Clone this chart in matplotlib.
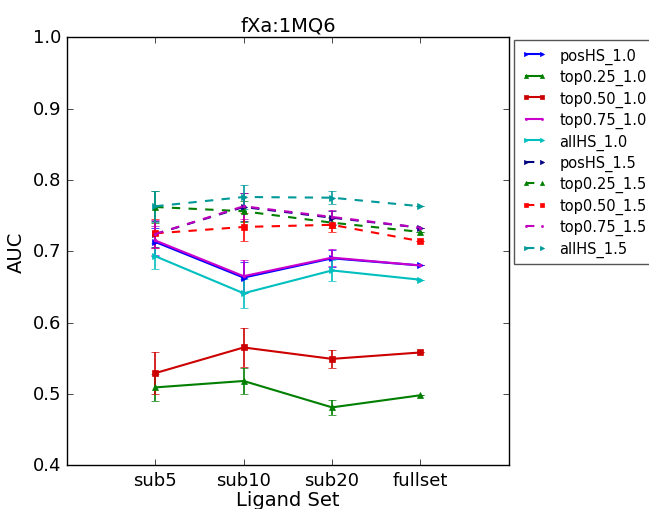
import numpy as np
import matplotlib
matplotlib.use('Agg')
import matplotlib.pyplot as plt
from matplotlib.lines import Line2D

plt.style.use('classic')

ligand_sets = ['sub5', 'sub10', 'sub20', 'fullset']

series_names = ['posHS_1.0', 'top0.25_1.0', 'top0.50_1.0', 'top0.75_1.0', 'allHS_1.0',
                'posHS_1.5', 'top0.25_1.5', 'top0.50_1.5', 'top0.75_1.5', 'allHS_1.5']

# AUC values per ligand set
posHS_10 = [0.713, 0.663, 0.690, 0.680]
top025_10 = [0.509, 0.518, 0.481, 0.498]
top050_10 = [0.529, 0.565, 0.549, 0.558]
top075_10 = [0.715, 0.665, 0.691, 0.680]
allHS_10 = [0.693, 0.641, 0.673, 0.660]
posHS_15 = [0.724, 0.762, 0.747, 0.733]
top025_15 = [0.762, 0.756, 0.740, 0.727]
top050_15 = [0.725, 0.734, 0.737, 0.714]
top075_15 = [0.724, 0.763, 0.748, 0.733]
allHS_15 = [0.763, 0.776, 0.775, 0.763]

# error bar half-widths
posHS_10_err = [0.02, 0.022, 0.012, 0.0]
top025_10_err = [0.019, 0.018, 0.011, 0.0]
top050_10_err = [0.029, 0.027, 0.013, 0.0]
top075_10_err = [0.02, 0.022, 0.012, 0.0]
allHS_10_err = [0.018, 0.02, 0.015, 0.0]
posHS_15_err = [0.018, 0.02, 0.01, 0.0]
top025_15_err = [0.022, 0.015, 0.008, 0.0]
top050_15_err = [0.02, 0.02, 0.01, 0.0]
top075_15_err = [0.02, 0.018, 0.01, 0.0]
allHS_15_err = [0.022, 0.017, 0.009, 0.0]

values = [posHS_10, top025_10, top050_10, top075_10, allHS_10,
          posHS_15, top025_15, top050_15, top075_15, allHS_15]
errors = [posHS_10_err, top025_10_err, top050_10_err, top075_10_err, allHS_10_err,
          posHS_15_err, top025_15_err, top050_15_err, top075_15_err, allHS_15_err]

colors = ['#0000ff', '#007f00', '#cc0000', '#cc00cc', '#00bfbf',
          '#000080', '#007f00', '#ff0000', '#bf00bf', '#009999']
markers = ['>', '^', 's', '.', '>', '>', '^', 's', '.', '>']
styles = ['-'] * 5 + ['--'] * 5

fig = plt.figure(figsize=(6.49, 5.10), dpi=100, facecolor='white')
ax = fig.add_axes([0.103, 0.086, 0.681, 0.839])

x = np.arange(1, len(ligand_sets) + 1)
handles = []
for name, v, e, c, m, ls in zip(series_names, values, errors, colors, markers, styles):
    ax.errorbar(x, v, yerr=e, color=c, ecolor=c, marker=m, markersize=4,
                markeredgecolor=c, linestyle=ls, linewidth=1.5, capsize=3,
                elinewidth=1.2)
    handles.append(Line2D([], [], color=c, marker=m, markersize=3, markeredgecolor=c,
                          linestyle=ls, linewidth=1.5, label=name))

ax.set_xlim(0, 5)
ax.set_ylim(0.4, 1.0)
ax.set_xticks(x)
ax.set_xticklabels(ligand_sets, fontsize=13)
ax.set_yticks(np.arange(0.4, 1.01, 0.1))
ax.tick_params(axis='y', labelsize=13)
ax.set_xlabel('Ligand Set', fontsize=14, labelpad=1)
ax.set_ylabel('AUC', fontsize=14)
ax.set_title('fXa:1MQ6', fontsize=14)

leg = ax.legend(handles=handles, loc='upper left', bbox_to_anchor=(1.012, 0.993),
                fontsize=10.5, numpoints=2, handlelength=1.7, handletextpad=0.9,
                borderaxespad=0, labelspacing=0.36, borderpad=0.5)
leg.get_frame().set_edgecolor('#555555')

fig.savefig('out.png', dpi=100, facecolor='white')
